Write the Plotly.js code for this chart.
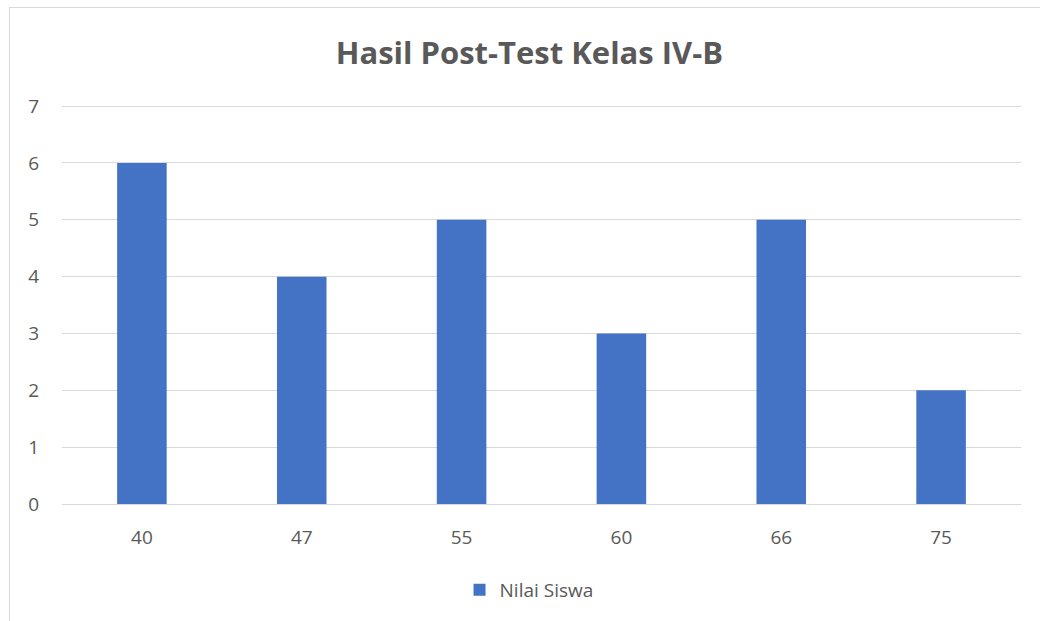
<!DOCTYPE html>
<html><head><meta charset="utf-8">
<script src="https://cdn.plot.ly/plotly-3.0.1.min.js"></script>
<style>
html,body{margin:0;padding:0;background:#fff;}
#wrap{position:relative;width:1040px;height:621px;overflow:hidden;}
#frame{position:absolute;left:9px;top:7px;width:1100px;height:700px;border-left:1px solid #d9d9d9;border-top:1px solid #d9d9d9;pointer-events:none;}
#chart{position:absolute;left:0;top:0;width:1040px;height:621px;}
</style></head>
<body><div id="wrap"><div id="chart"></div><div id="frame"></div></div>
<script>
const categories = ["40", "47", "55", "60", "66", "75"];
const values = [6, 4, 5, 3, 5, 2];
const seriesName = "Nilai Siswa";
const titleText = "Hasil Post-Test Kelas IV-B";

const trace = {
  type: "bar",
  x: categories,
  y: values,
  name: seriesName,
  marker: {color: "#4472c4"},
  hoverinfo: "x+y"
};
const layout = {
  width: 1040, height: 621,
  margin: {l: 62, r: 19, t: 105, b: 117},
  paper_bgcolor: "rgba(0,0,0,0)",
  plot_bgcolor: "#fff",
  bargap: 0.69,
  showlegend: true,
  title: {text: "<b>" + titleText + "</b>", x: 0.509, xref: "container", xanchor: "center", y: 0.915, yref: "container", yanchor: "middle",
    font: {family: "Open Sans, sans-serif", size: 31, color: "#595959"}},
  font: {family: "Open Sans, sans-serif", color: "#595959", size: 19},
  xaxis: {type: "category", showgrid: false, showline: true, linecolor: "#d9d9d9", linewidth: 1, ticks: "", tickfont: {size: 19, color: "#595959"}, ticklabelstandoff: 16},
  yaxis: {range: [0, 7.02], tickvals: [0,1,2,3,4,5,6,7], showgrid: true, gridcolor: "#d9d9d9", gridwidth: 1, zeroline: false, showline: false, ticks: "", tickfont: {size: 19, color: "#595959"}, ticklabelstandoff: 22},
  legend: {orientation: "h", x: 0.487, xanchor: "center", y: -0.215, yanchor: "middle", font: {size: 19, color: "#595959"}, itemwidth: 30}
};
Plotly.newPlot("chart", [trace], layout, {displayModeBar: false, staticPlot: true});
</script></body></html>
